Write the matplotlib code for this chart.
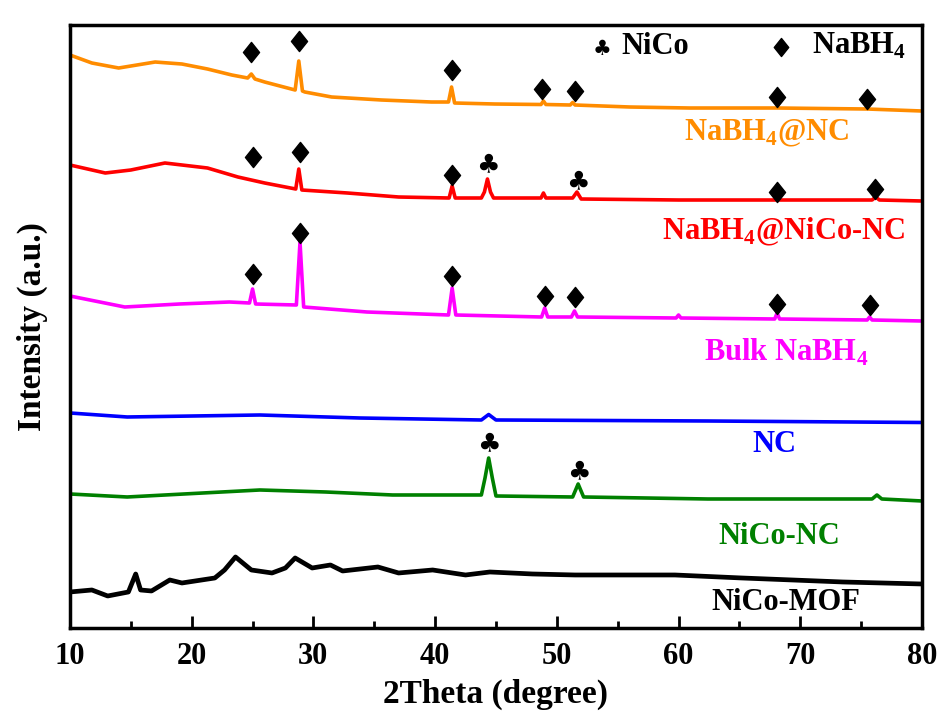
import numpy as np
import matplotlib
matplotlib.use('Agg')
import matplotlib.pyplot as plt
from matplotlib.ticker import MultipleLocator
from matplotlib.path import Path

# ============================================================
# DADOS (2theta, intensidade em u.a.)
# ============================================================
th_nabh4_nc = [10, 11.8, 14, 17, 19.2, 21.3, 23.3, 24.6, 24.9, 25.2, 26, 28.5, 28.8, 29.1,
               29.3, 31.5, 35.6, 39.7, 41.1, 41.35, 41.6, 44.9, 48.7, 48.9, 49.1, 51.1,
               51.3, 51.5, 56, 60.9, 68.1, 75.5, 80]
i_nabh4_nc = [573, 565, 560, 566, 564, 559, 553, 550, 554, 549, 546, 538, 567, 537,
              536, 531, 528, 526, 526, 541, 525, 524, 523.5, 527, 523.5, 523,
              525.5, 523, 521, 520, 520, 519, 517]

th_nabh4_nico = [10, 12.9, 15, 17.8, 21.3, 23.8, 26, 28.55, 28.8, 29.05, 32.8, 37, 41.15,
                 41.4, 41.65, 43.8, 44.05, 44.3, 44.55, 44.8, 48.7, 48.9, 49.1, 51.3,
                 51.65, 52.0, 60, 68, 75.9, 76.2, 76.5, 80]
i_nabh4_nico = [463, 455, 458, 465, 460, 451, 445, 439, 459, 438, 435, 431, 430,
                442, 430, 430, 436, 449, 436, 430, 430, 435, 430, 430,
                436, 429, 428, 428, 428, 431, 428, 427]

th_bulk = [10, 14.5, 19, 23.1, 24.75, 25.0, 25.25, 28.6, 28.9, 29.2, 34.4, 41.1, 41.4,
           41.7, 48.75, 49.0, 49.25, 51.2, 51.45, 51.7, 59.8, 60.0, 60.2, 67.9, 68.1,
           68.3, 75.5, 75.7, 75.9, 80]
i_bulk = [332, 321, 324, 326, 325, 339, 324, 323, 386, 321, 316, 313, 340,
          313, 311, 320, 311, 311, 317, 311, 310, 313, 310, 309, 315,
          309, 308, 311, 308, 307]

th_nc = [10, 14.7, 25.6, 33.8, 43.8, 44.4, 45, 62.4, 80]
i_nc = [215, 211, 213, 210, 208, 213.5, 208, 207, 205.5]

th_nico_nc = [10, 14.7, 25.6, 31, 36.5, 43.8, 44.1, 44.4, 44.7, 45.0, 51.3, 51.75, 52.2,
              62.4, 75.9, 76.3, 76.7, 80]
i_nico_nc = [134, 131, 138, 136, 133, 133, 150, 170, 150, 132, 131, 144, 131,
             129, 129, 133, 129, 127]

th_mof = [10, 11.8, 13.1, 14.8, 15.4, 15.8, 16.7, 18.2, 19.2, 21.9, 22.7, 23.6, 24.9,
          26.6, 27.7, 28.5, 29.9, 31.4, 32.4, 35.3, 37, 39.8, 42.5, 44.5, 48, 51.5,
          59.7, 65.2, 73.5, 80]
i_mof = [36, 38, 32, 36, 54, 38, 37, 48, 45, 50, 58, 71, 58,
         55, 60, 70, 60, 63, 57, 61, 55, 58, 53, 56, 54, 53,
         53, 50, 46, 44]

# marcadores de fase: (2theta, altura)
losango_th = [24.9, 28.8, 41.4, 48.8, 51.5, 68.1, 75.5,      # NaBH4@NC
              25.0, 28.9, 41.4, 68.1, 76.1,                  # NaBH4@NiCo-NC
              25.0, 28.9, 41.4, 49.0, 51.5, 68.1, 75.7]      # Bulk
losango_y = [576, 587, 558, 539, 537, 531, 529,
             471, 476, 453, 436, 439,
             354, 395, 352, 332, 331, 324, 323]
paus_th = [44.3, 51.7, 44.4, 51.8]
paus_y = [463, 446, 184, 156]

# ============================================================
# ESTILO
# ============================================================
plt.rcParams['font.family'] = 'Liberation Serif'
plt.rcParams['font.weight'] = 'bold'
plt.rcParams['mathtext.fontset'] = 'custom'
plt.rcParams['mathtext.rm'] = 'Liberation Serif:bold'
plt.rcParams['mathtext.bf'] = 'Liberation Serif:bold'

LARANJA = '#ff8c00'
VERMELHO = '#ff0000'
MAGENTA = '#ff00ff'
AZUL = '#0000ff'
VERDE = '#008000'
PRETO = '#000000'

losango = Path([(0, 1), (0.8, 0), (0, -1), (-0.8, 0), (0, 1)],
               [Path.MOVETO, Path.LINETO, Path.LINETO, Path.LINETO, Path.CLOSEPOLY])

fig = plt.figure(figsize=(9.43, 7.27), dpi=100)
ax = fig.add_axes([0.0742, 0.1362, 0.9035, 0.8294])

series = [
    (th_nabh4_nc, i_nabh4_nc, LARANJA),
    (th_nabh4_nico, i_nabh4_nico, VERMELHO),
    (th_bulk, i_bulk, MAGENTA),
    (th_nc, i_nc, AZUL),
    (th_nico_nc, i_nico_nc, VERDE),
    (th_mof, i_mof, PRETO),
]
for th, ii, cor in series:
    lw = 3.4 if cor == PRETO else 2.6
    ax.plot(th, ii, color=cor, linewidth=lw, solid_joinstyle='round')

ax.plot(losango_th, losango_y, linestyle='none', marker=losango, markersize=14.5,
        color='black')
for x, y in zip(paus_th, paus_y):
    ax.text(x, y, '\u2663', family='DejaVu Sans', fontsize=19, ha='center',
            va='center', color='black')

# legenda manual
ax.text(53.7, 579, '\u2663', family='DejaVu Sans', fontsize=15, ha='center',
        va='center', color='black')
ax.text(55.3, 582, 'NiCo', fontsize=22, ha='left', va='center')
ax.plot([68.4], [581], linestyle='none', marker=losango, markersize=13, color='black')
ax.text(71.0, 582, r'NaBH$_4$', fontsize=22, ha='left', va='center')

# rótulos das amostras
ax.text(67.2, 495, r'NaBH$_4$@NC', fontsize=22, color=LARANJA, ha='center', va='center')
ax.text(68.6, 396, r'NaBH$_4$@NiCo-NC', fontsize=22, color=VERMELHO, ha='center', va='center')
ax.text(68.8, 276, r'Bulk NaBH$_4$', fontsize=22, color=MAGENTA, ha='center', va='center')
ax.text(67.9, 183, 'NC', fontsize=22, color=AZUL, ha='center', va='center')
ax.text(68.3, 91, 'NiCo-NC', fontsize=22, color=VERDE, ha='center', va='center')
ax.text(68.8, 25, 'NiCo-MOF', fontsize=22, color=PRETO, ha='center', va='center')

ax.set_xlim(10, 80)
ax.set_ylim(0, 603)
ax.xaxis.set_major_locator(MultipleLocator(10))
ax.xaxis.set_minor_locator(MultipleLocator(5))
ax.set_yticks([])
ax.tick_params(axis='x', which='major', direction='in', length=9, width=2,
               labelsize=22, pad=10)
ax.tick_params(axis='x', which='minor', direction='in', length=5, width=2)
for s in ax.spines.values():
    s.set_linewidth(2.5)

ax.set_xlabel('2Theta (degree)', fontsize=24, fontweight='bold', labelpad=6)
ax.set_ylabel('Intensity (a.u.)', fontsize=24, fontweight='bold', labelpad=16)

plt.savefig('out.png', dpi=100)
